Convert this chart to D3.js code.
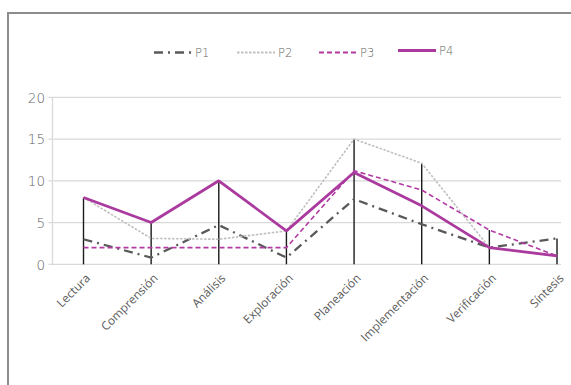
<!DOCTYPE html>
<html><head><meta charset="utf-8">
<script src="https://cdn.jsdelivr.net/npm/d3@7"></script>
<style>body{margin:0;background:#fff;}svg{display:block;}</style>
</head><body>
<script>
const categories = ["Lectura","Comprensión","Análisis","Exploración","Planeación","Implementación","Verificación","Síntesis"];
const P1 = [3, 0.8, 4.7, 0.8, 7.8, 4.8, 2, 3.1];
const P2 = [8, 3.1, 3, 4, 15, 12.1, 2, 1];
const P3 = [2, 2, 2, 2, 11.2, 8.9, 4.1, 1];
const P4 = [8, 5, 10, 4, 11, 7, 2, 1];
const seriesNames = ["P1","P2","P3","P4"];
const yTicks = [0,5,10,15,20];

const W = 571, H = 385;
const svg = d3.select("body").append("svg").attr("width", W).attr("height", H);
svg.append("rect").attr("x",0).attr("y",0).attr("width",W).attr("height",H).attr("fill","#fff");
// chart border (partly cropped)
svg.append("path").attr("d","M8,390 L8,13 L580,13").attr("fill","none").attr("stroke","#8c8c8c").attr("stroke-width",2);

const x = d3.scalePoint().domain(categories).range([83.5, 557]);
const y = d3.scaleLinear().domain([0,20]).range([264.3, 97.3]);
const plotL = 52.5, plotR = 561;

// gridlines
const g = svg.append("g");
g.selectAll("line.grid").data(yTicks).join("line")
  .attr("x1", plotL-4).attr("x2", plotR)
  .attr("y1", d=>y(d)).attr("y2", d=>y(d))
  .attr("stroke","#d9d9d9").attr("stroke-width",1.3);
g.append("line").attr("x1",plotL).attr("x2",plotL).attr("y1",y(20)).attr("y2",y(0))
  .attr("stroke","#d9d9d9").attr("stroke-width",1.3);

// y tick labels
const yAxis = d3.axisLeft(y).tickValues(yTicks).tickSize(0).tickPadding(0);
const ya = svg.append("g").attr("transform",`translate(45,0)`).call(yAxis);
ya.select(".domain").remove();
ya.selectAll("text").attr("font-family","'DejaVu Sans', sans-serif").attr("font-size",13.5)
  .attr("fill","#666").attr("font-weight",300).attr("dy","0.35em");

// drop lines
const all = [P1,P2,P3,P4];
const maxes = categories.map((c,i)=>d3.max(all, s=>s[i]));
svg.append("g").selectAll("line").data(categories).join("line")
  .attr("x1", d=>x(d)).attr("x2", d=>x(d))
  .attr("y1", (d,i)=>y(maxes[i])).attr("y2", y(0))
  .attr("stroke","#1a1a1a").attr("stroke-width",1.4);

// x labels
const xAxis = d3.axisBottom(x).tickSize(0).tickPadding(0);
const xa = svg.append("g").attr("transform",`translate(0,0)`).call(xAxis);
xa.select(".domain").remove();
xa.selectAll("text")
  .attr("transform", `translate(4,276) rotate(-45)`)
  .attr("x",0).attr("y",0).attr("dy","0.35em")
  .attr("text-anchor","end")
  .attr("font-family","'Open Sans', sans-serif").attr("font-size",11.8)
  .attr("fill","#595959");

const styles = [
  {color:"#595959", width:2.3, dash:"9,5,2,5"},
  {color:"#bfbfbf", width:1.6, dash:"2.5,1.5"},
  {color:"#b33aa3", width:1.6, dash:"5,3"},
  {color:"#ab3a9f", width:2.8, dash:null}
];
const line = d3.line().x((d,i)=>x(categories[i])).y(d=>y(d));
all.forEach((s,k)=>{
  const p = svg.append("path").datum(s).attr("d", line).attr("fill","none")
    .attr("stroke", styles[k].color).attr("stroke-width", styles[k].width)
    .attr("stroke-linejoin","round");
  if (styles[k].dash) p.attr("stroke-dasharray", styles[k].dash);
});

// legend
const legX = [154, 237, 319, 398];
const legY = [52.5, 52.5, 52.5, 50.5];
seriesNames.forEach((n,k)=>{
  const l = svg.append("line").attr("x1",legX[k]).attr("x2",legX[k]+38)
    .attr("y1",legY[k]).attr("y2",legY[k])
    .attr("stroke",styles[k].color).attr("stroke-width",styles[k].width+0.3);
  if (styles[k].dash) l.attr("stroke-dasharray", styles[k].dash);
  svg.append("text").attr("x",legX[k]+41).attr("y",legY[k]).attr("dy","0.35em")
    .attr("font-family","'DejaVu Sans', sans-serif").attr("font-size",11.5).attr("font-weight",300)
    .attr("fill","#666").text(n);
});
</script>
</body></html>
